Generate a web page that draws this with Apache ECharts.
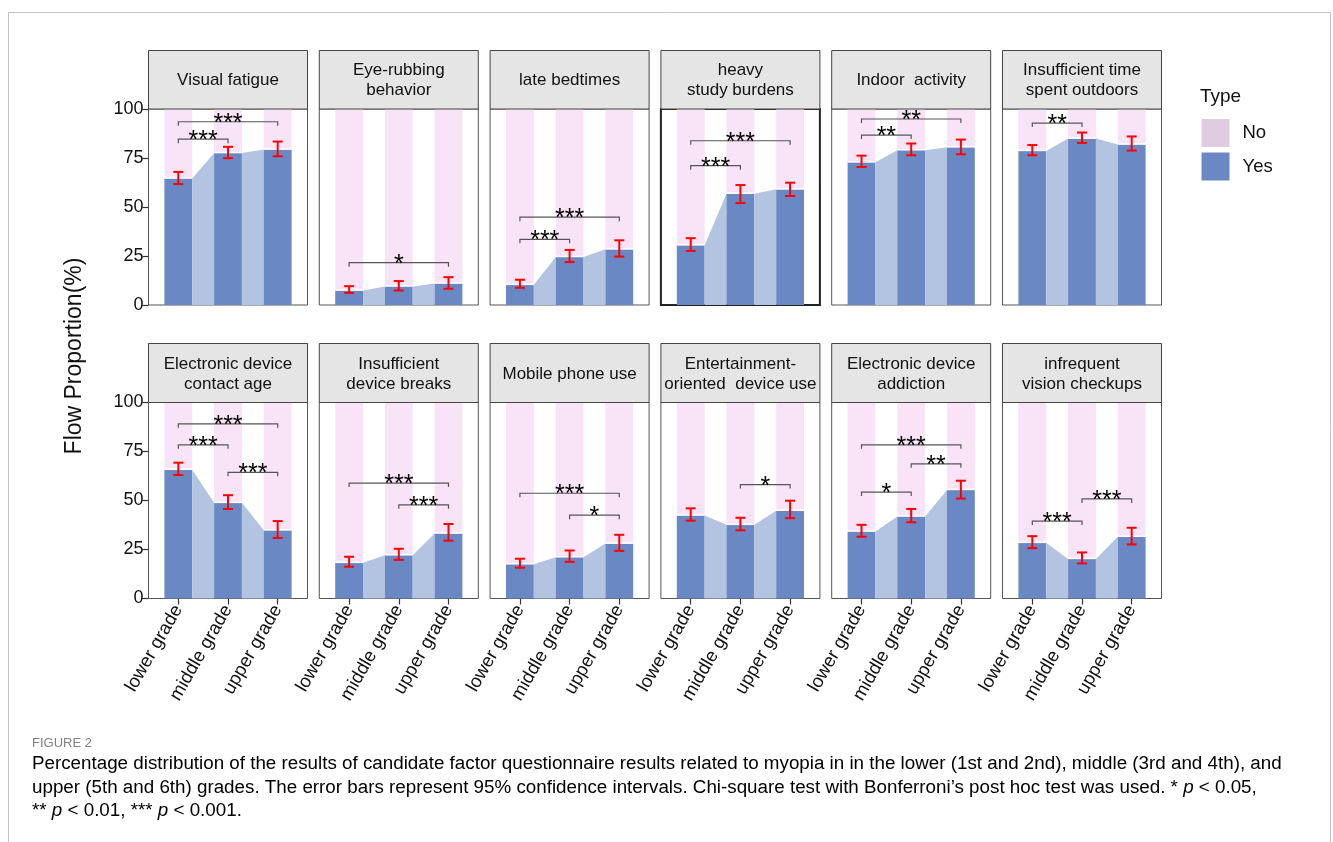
<!DOCTYPE html>
<html>
<head>
<meta charset="utf-8">
<script src="https://cdn.jsdelivr.net/npm/echarts@6/dist/echarts.min.js"></script>
<style>html,body{margin:0;padding:0;background:#fff;}#c{width:1333px;height:842px;}</style>
</head>
<body>
<div id="c"></div>
<script>
// ---------- DATA ----------
const grades = ['lower grade', 'middle grade', 'upper grade'];
const factors = [
  'Visual fatigue', 'Eye-rubbing\nbehavior', 'late bedtimes', 'heavy\nstudy burdens',
  'Indoor  activity', 'Insufficient time\nspent outdoors',
  'Electronic device\ncontact age', 'Insufficient\ndevice breaks', 'Mobile phone use',
  'Entertainment-\noriented  device use', 'Electronic device\naddiction', 'infrequent\nvision checkups'
];
// percentage answering "Yes" per grade
const yesPct = [
  [64.6, 77.5, 79.3], [7.4, 9.5, 11.0], [10.3, 24.5, 28.4], [30.5, 56.8, 59.0],
  [72.8, 79.0, 80.5], [78.6, 84.9, 81.9],
  [65.7, 48.8, 34.8], [18.2, 22.1, 33.2], [17.5, 21.1, 28.0],
  [42.4, 37.6, 44.8], [34.2, 41.9, 55.4], [28.4, 20.2, 31.5]
];
// 95% CI lower / upper
const ciLow = [
  [61.7, 74.9, 75.9], [6.2, 7.4, 8.3], [8.8, 21.9, 24.7], [27.6, 52.0, 55.6],
  [70.4, 76.4, 76.9], [76.4, 82.7, 78.8],
  [63.0, 45.7, 30.9], [16.2, 19.7, 29.5], [15.7, 18.7, 24.3],
  [39.7, 34.8, 41.0], [31.5, 38.9, 51.0], [25.7, 17.9, 27.6]
];
const ciHigh = [
  [67.9, 80.7, 83.4], [9.6, 12.2, 14.2], [12.9, 28.1, 33.0], [34.1, 61.2, 62.4],
  [76.2, 82.4, 84.4], [81.6, 88.0, 86.0],
  [69.3, 52.7, 39.5], [21.3, 25.4, 38.0], [20.3, 24.5, 32.5],
  [46.0, 41.2, 49.9], [37.6, 45.7, 60.1], [31.8, 23.5, 36.1]
];
// significance brackets: [from grade, to grade, height (%), label]
const sigBrackets = [
  [[1, 3, 93.5, '***'], [1, 2, 84.6, '***']],
  [[1, 3, 21.6, '*']],
  [[1, 3, 44.8, '***'], [1, 2, 33.5, '***']],
  [[1, 3, 83.8, '***'], [1, 2, 71.1, '***']],
  [[1, 3, 94.9, '**'], [1, 2, 86.7, '**']],
  [[1, 2, 92.8, '**']],
  [[1, 3, 89.1, '***'], [1, 2, 78.4, '***'], [2, 3, 64.4, '***']],
  [[1, 3, 58.9, '***'], [2, 3, 47.8, '***']],
  [[1, 3, 53.7, '***'], [2, 3, 42.5, '*']],
  [[2, 3, 58.1, '*']],
  [[1, 3, 78.4, '***'], [2, 3, 68.7, '**'], [1, 2, 54.3, '*']],
  [[1, 2, 39.5, '***'], [2, 3, 50.8, '***']]
];
const yTicks = [0, 25, 50, 75, 100];
const legendTypes = ['No', 'Yes'];

// ---------- STYLE / LAYOUT ----------
const FONT = 'Liberation Sans, Arial, Helvetica, sans-serif';
const C_NO = '#F8E4F6', C_NO_LEG = '#DFCCE0', C_YES = '#6A89C4', C_FLOW = '#B3C4E0';
const PW = 159, PH = 196, PITCH = 170.8, LEFT0 = 148.5;
const ROW_TOP = [109, 402.5];
const STRIP_TOP = [50.5, 343.5];
const HW = 0.28;

const chart = echarts.init(document.getElementById('c'), null, {renderer: 'canvas'});
const grids = [], xAxes = [], yAxes = [], series = [], graphics = [];

factors.forEach((name, i) => {
  const col = i % 6, row = Math.floor(i / 6);
  const left = LEFT0 + col * PITCH;
  const special = i === 3;
  grids.push({left: left, top: ROW_TOP[row], width: PW, height: PH, show: true,
    backgroundColor: '#fff', borderColor: special ? '#222' : '#555', borderWidth: special ? 2 : 1});
  xAxes.push({gridIndex: i, type: 'value', min: 0.4, max: 3.6,
    axisLine: {show: false}, splitLine: {show: false},
    axisTick: {show: row === 1, customValues: [1, 2, 3], length: 6, lineStyle: {color: '#333', width: 1.2}},
    axisLabel: {show: row === 1, customValues: [1, 2, 3], rotate: 60, margin: 8,
      fontSize: 18.5, color: '#111', fontFamily: FONT,
      formatter: v => grades[Math.round(v) - 1]}});
  yAxes.push({gridIndex: i, type: 'value', min: 0, max: 100, interval: 25,
    axisLine: {show: false}, splitLine: {show: false},
    axisTick: {show: col === 0, length: 6, lineStyle: {color: '#333', width: 1.2}},
    axisLabel: {show: col === 0, fontSize: 18, color: '#111', fontFamily: FONT, margin: 5,
      customValues: yTicks}});
  const data = grades.map((g, k) => [k + 1, yesPct[i][k], ciLow[i][k], ciHigh[i][k],
    k < 2 ? yesPct[i][k + 1] : -1]);
  series.push({type: 'custom', xAxisIndex: i, yAxisIndex: i, data: data, silent: true, z: 2,
    renderItem: (params, api) => {
      const x = api.value(0), y = api.value(1), lo = api.value(2), hi = api.value(3), nx = api.value(4);
      const b0 = api.coord([x - HW, 0]), b1 = api.coord([x + HW, y]), bt = api.coord([x + HW, 100]);
      const w = b1[0] - b0[0];
      const children = [];
      children.push({type: 'rect', shape: {x: b0[0], y: bt[1], width: w, height: b1[1] - bt[1]}, style: {fill: C_NO}});
      children.push({type: 'rect', shape: {x: b0[0], y: b1[1], width: w, height: b0[1] - b1[1]}, style: {fill: C_YES}});
      children.push({type: 'line', shape: {x1: b0[0], y1: b1[1] - 0.5, x2: b1[0], y2: b1[1] - 0.5}, style: {stroke: '#fff', lineWidth: 1.5}});
      if (nx >= 0) {
        const f1 = api.coord([x + HW, 0]), f2 = api.coord([x + HW, y]), f3 = api.coord([x + 1 - HW, nx]), f4 = api.coord([x + 1 - HW, 0]);
        children.push({type: 'polygon', shape: {points: [f1, f2, f3, f4]}, style: {fill: C_FLOW}});
      }
      const cx = api.coord([x, lo])[0];
      const yl = api.coord([x, lo])[1], yh = api.coord([x, hi])[1];
      const es = {stroke: '#FF0000', lineWidth: 2};
      children.push({type: 'line', shape: {x1: cx, y1: yl, x2: cx, y2: yh}, style: es, z2: 5});
      children.push({type: 'line', shape: {x1: cx - 5, y1: yl, x2: cx + 5, y2: yl}, style: es, z2: 5});
      children.push({type: 'line', shape: {x1: cx - 5, y1: yh, x2: cx + 5, y2: yh}, style: es, z2: 5});
      return {type: 'group', children: children};
    }});
  const sig = sigBrackets[i];
  series.push({type: 'custom', xAxisIndex: i, yAxisIndex: i, silent: true, z: 5,
    data: sig.map(s => [s[0], s[1], s[2]]),
    renderItem: (params, api) => {
      const p1 = api.coord([api.value(0), api.value(2)]);
      const p2 = api.coord([api.value(1), api.value(2)]);
      const lab = sig[params.dataIndex][3];
      return {type: 'group', children: [
        {type: 'polyline', shape: {points: [[p1[0], p1[1] + 4], [p1[0], p1[1]], [p2[0], p2[1]], [p2[0], p2[1] + 4]]},
          style: {stroke: '#555', lineWidth: 1.2, fill: null}},
        {type: 'text', style: {text: lab, x: (p1[0] + p2[0]) / 2, y: p1[1] + 2, align: 'center', verticalAlign: 'middle',
          font: '25px ' + FONT, fill: '#000'}}
      ]};
    }});
  // strip header
  graphics.push({type: 'rect', shape: {x: left, y: STRIP_TOP[row], width: PW, height: ROW_TOP[row] - STRIP_TOP[row]},
    style: {fill: '#E5E5E5', stroke: '#444', lineWidth: 1}, z: 10});
  graphics.push({type: 'text', x: left + PW / 2, y: (STRIP_TOP[row] + ROW_TOP[row]) / 2 + 1,
    style: {text: name, align: 'center', verticalAlign: 'middle', font: '17px ' + FONT, fill: '#111', lineHeight: 20}, z: 11});
});

// legend dummy series
legendTypes.forEach((t, k) => {
  series.push({type: 'bar', name: t, xAxisIndex: 0, yAxisIndex: 0, data: [],
    itemStyle: {color: k === 0 ? C_NO_LEG : C_YES}});
});

// frame, y label, legend title, caption
graphics.push({type: 'rect', shape: {x: 8.5, y: 12.5, width: 1322, height: 860}, style: {fill: null, stroke: '#c4c4c4', lineWidth: 1}, z: 0});
graphics.push({type: 'text', x: 75, y: 356, rotation: Math.PI / 2,
  style: {text: 'Flow Proportion(%)', align: 'center', verticalAlign: 'middle', font: '23px ' + FONT, fill: '#111'}, z: 11});
graphics.push({type: 'text', x: 1200, y: 97,
  style: {text: 'Type', align: 'left', verticalAlign: 'middle', font: '19px ' + FONT, fill: '#111'}, z: 11});
const CAPF = 'Liberation Sans, Arial, sans-serif';
graphics.push({type: 'text', x: 32, y: 743,
  style: {text: 'FIGURE 2', align: 'left', verticalAlign: 'middle', font: '13px ' + CAPF, fill: '#808080'}, z: 11});
const capLines = [
  [{t: 'Percentage distribution of the results of candidate factor questionnaire results related to myopia in in the lower (1st and 2nd), middle (3rd and 4th), and'}],
  [{t: 'upper (5th and 6th) grades. The error bars represent 95% confidence intervals. Chi-square test with Bonferroni\u2019s post hoc test was used. * '}, {t: 'p', i: 1}, {t: ' < 0.05,'}],
  [{t: '** '}, {t: 'p', i: 1}, {t: ' < 0.01, *** '}, {t: 'p', i: 1}, {t: ' < 0.001.'}]
];
capLines.forEach((ln, j) => {
  graphics.push({type: 'text', x: 32, y: 764 + j * 23.5,
    style: {text: ln.map(s => s.i ? '{i|' + s.t + '}' : '{n|' + s.t + '}').join(''),
      align: 'left', verticalAlign: 'middle',
      rich: {n: {fontSize: 18.8, fontFamily: CAPF, color: '#666'}, i: {fontSize: 18.8, fontFamily: CAPF, color: '#666', fontStyle: 'italic'}}}, z: 11});
});

chart.setOption({
  animation: false,
  backgroundColor: '#fff',
  grid: grids, xAxis: xAxes, yAxis: yAxes, series: series,
  legend: {data: legendTypes, orient: 'vertical', left: 1196.5, top: 114, itemWidth: 28, itemHeight: 28, itemGap: 5.5,
    icon: 'rect', selectedMode: false,
    textStyle: {fontSize: 18.5, fontFamily: FONT, color: '#111', padding: [0, 0, 0, 8]}},
  graphic: graphics
});
</script>
</body>
</html>
